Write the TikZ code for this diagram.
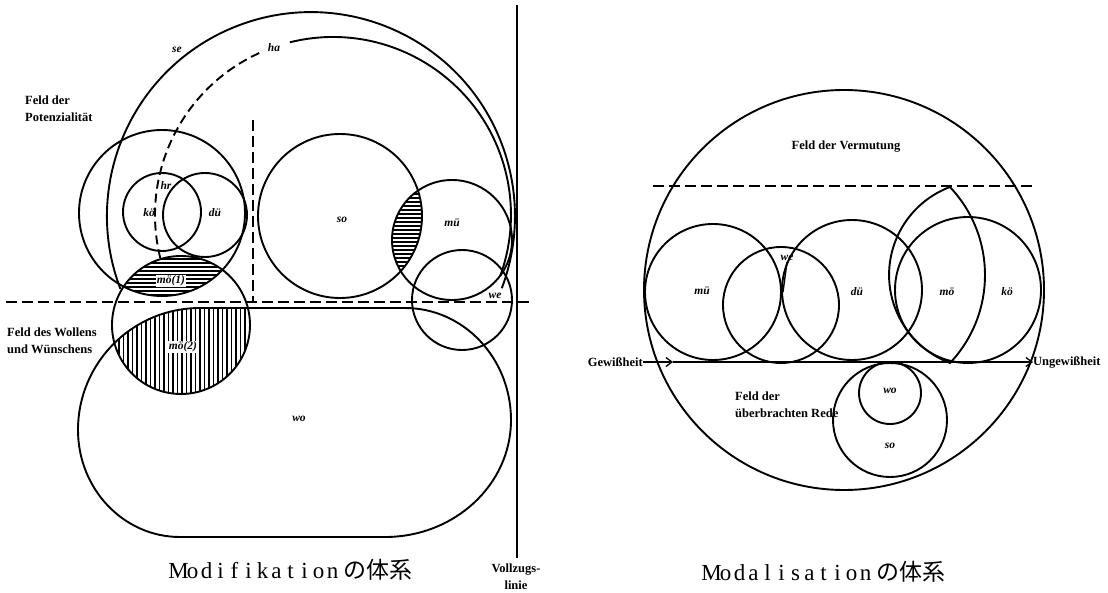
\documentclass[tikz,border=0pt]{standalone}
\usepackage{fontspec}
\setmainfont{Liberation Serif}
\newfontfamily\jafont{Noto Sans CJK JP}
\usetikzlibrary{arrows.meta}
\newcommand\zelle[1]{\makebox[14pt]{#1}}
\newcommand\wopfad{(200,308) -- (405,308) arc[start angle=-90, end angle=0, x radius=106, y radius=112]
  arc[start angle=0, end angle=90, x radius=126, y radius=117] -- (180,537)
  arc[start angle=90, end angle=180, x radius=102, y radius=107]
  arc[start angle=180, end angle=270, radius=122] -- cycle}
\tikzset{
  kreis/.style={line width=1.9pt},
  trennlinie/.style={line width=1.4pt, dash pattern=on 11pt off 5pt},
  strich/.style={line width=1.3pt},
  feld/.style={font=\fontsize{12.5}{17}\selectfont\bfseries, align=left, inner sep=0pt},
  kuerzel/.style={font=\fontsize{11.5}{12}\selectfont\bfseries\itshape, inner sep=1pt},
  titel/.style={font=\fontsize{23}{26}\selectfont, inner sep=0pt},
  pfeil/.style={-{Straight Barb[length=6pt,width=9pt]}, line width=1.3pt},
}

\begin{document}
\begin{tikzpicture}[x=1pt,y=-1pt]
  \useasboundingbox (0,0) rectangle (1108,593);

  % --- Modifikation: Schraffuren ----------------------------------------------
  \begin{scope}
    \clip (181,325) circle[radius=69];
    \clip (162,213) circle[radius=83];
    \foreach \y in {255,259,...,299} \draw[strich] (100,\y) -- (260,\y);
  \end{scope}
  \begin{scope}
    \clip (181,325) circle[radius=69];
    \clip \wopfad;
    \foreach \x in {110,114.5,...,255} \draw[line width=1.8pt] (\x,300) -- (\x,400);
  \end{scope}
  \begin{scope}
    \clip (340,216) circle[radius=82];
    \clip (452,240) circle[radius=60];
    \foreach \y in {190,194,...,282} \draw[strich] (380,\y) -- (430,\y);
  \end{scope}

  % --- Modifikation: Kreise und Felder ----------------------------------------
  \draw[kreis] (120.4,288.9) arc[start angle=159.1, end angle=380.7, radius=204];
  \draw[kreis, dash pattern=on 9pt off 5pt] (160.3,258.1) arc[start angle=166, end angle=246, radius=178];
  \draw[kreis] (289.9,42.3) arc[start angle=256, end angle=380, radius=178];
  \draw[kreis] (162,213) circle[radius=83];
  \draw[kreis] (162,212) circle[radius=39];
  \draw[kreis] (205,215) circle[radius=42];
  \draw[kreis] (181,325) circle[radius=69];
  \draw[kreis] (340,216) circle[radius=82];
  \draw[kreis] (452,240) circle[radius=60];
  \draw[kreis] (462,300) circle[radius=50];
  \draw[kreis] \wopfad;

  % Trennlinien und Vollzugslinie
  \coordinate (lli) at (6,302);
  \coordinate (lre) at (530,302);
  \coordinate (vob) at (253,120);
  \coordinate (vun) at (253,302);
  \coordinate (zob) at (517,5);
  \coordinate (zun) at (517,558);
  \draw[trennlinie] (lli) -- (lre);
  \draw[trennlinie] (vob) -- (vun);
  \draw[line width=2.2pt] (zob) -- (zun);

  % Beschriftungen
  \node[feld, anchor=west] (potenz) at (25,109) {Feld der\\Potenzialität};
  \node[feld, anchor=west] (wollen) at (7,341) {Feld des Wollens\\und Wünschens};
  \node[feld, align=center] (vollzug) at (516,577) {Vollzugs-\\linie};
  \node[kuerzel] (se) at (177,50) {se};
  \node[kuerzel] (ha) at (274,48) {ha};
  \node[kuerzel] (hr) at (166,186) {hr};
  \node[kuerzel] (koe) at (149,213) {kö};
  \node[kuerzel] (due) at (215,213) {dü};
  \node[kuerzel, fill=white] (moe1) at (171,281) {mö(1)};
  \node[kuerzel, fill=white] (moe2) at (183,347) {mö(2)};
  \node[kuerzel] (so) at (342,220) {so};
  \node[kuerzel] (mue) at (452,223) {mü};
  \node[kuerzel] (we) at (495,296) {we};
  \node[kuerzel] (wo) at (299,419) {wo};
  \node[titel] (titellinks) at (292,570) {\zelle{M}\zelle{o}\zelle{d}\zelle{i}\zelle{f}\zelle{i}\zelle{k}\zelle{a}\zelle{t}\zelle{i}\zelle{o}\zelle{n}\,{\jafont の体系}};

  % --- Modalisation -------------------------------------------------------------
  \draw[kreis] (844,290) circle[radius=200];
  \draw[kreis] (713,292) circle[radius=68];
  \draw[kreis] (781,305) circle[radius=58];
  \draw[kreis] (852,290) circle[radius=70];
  \draw[kreis] (968,290) circle[radius=73];
  \draw[kreis] (950,187) arc[start angle=249.4, end angle=110.6, radius=94]
                         arc[start angle=43.4, end angle=-43.4, radius=128] -- cycle;
  \draw[kreis] (890,393) circle[radius=31];
  \draw[kreis] (890,420) circle[radius=57];

  \coordinate (rli) at (653,186);
  \coordinate (rre) at (1035,186);
  \draw[trennlinie] (rli) -- (rre);

  \node[feld] (vermutung) at (846,147) {Feld der Vermutung};
  \node[feld, anchor=east] (gewiss) at (643,362) {Gewißheit};
  \node[feld, anchor=west] (ungewiss) at (1033,362) {Ungewißheit};
  \coordinate (gmitte) at (673,362);
  \draw[pfeil] (gewiss.east) -- (gmitte);
  \draw[pfeil] (gmitte) -- (ungewiss.west);
  \node[feld, anchor=west] (rede) at (735,405) {Feld der\\überbrachten Rede};

  \node[kuerzel] (rmue) at (702,291) {mü};
  \node[kuerzel] (rwe) at (787,258) {we};
  \node[kuerzel] (rdue) at (857,292) {dü};
  \node[kuerzel] (rmoe) at (947,292) {mö};
  \node[kuerzel] (rkoe) at (1007,292) {kö};
  \node[kuerzel] (rwo) at (890,391) {wo};
  \node[kuerzel] (rso) at (890,446) {so};
  \coordinate (weende) at (783,292);
  \draw[kreis, line width=1.4pt] (rwe.south) -- (weende);
  \node[titel] (titelrechts) at (825,572) {\zelle{M}\zelle{o}\zelle{d}\zelle{a}\zelle{l}\zelle{i}\zelle{s}\zelle{a}\zelle{t}\zelle{i}\zelle{o}\zelle{n}\,{\jafont の体系}};
\end{tikzpicture}
\end{document}
